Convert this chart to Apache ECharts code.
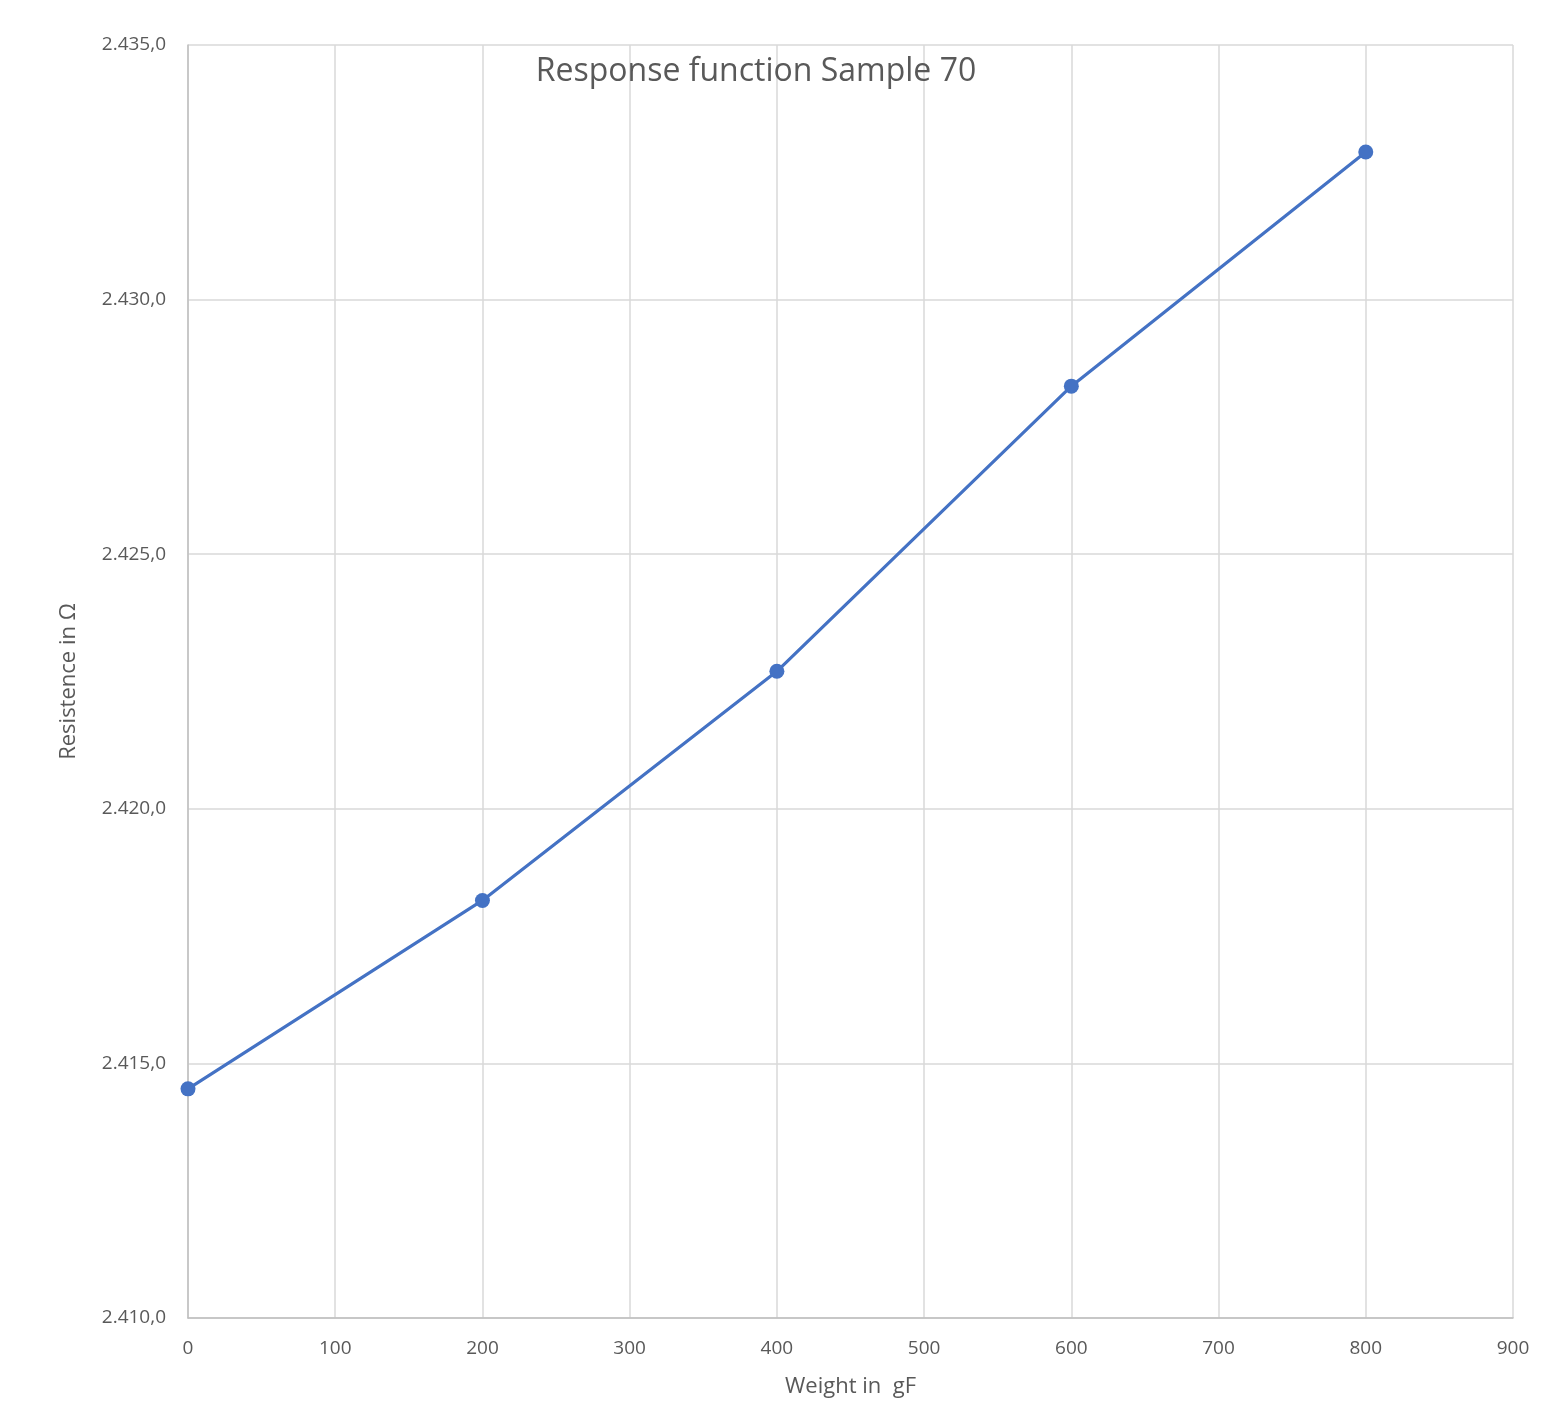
<!DOCTYPE html>
<html><head><meta charset="utf-8">
<script src="https://cdn.jsdelivr.net/npm/echarts@6/dist/echarts.min.js"></script>
<style>html,body{margin:0;padding:0;background:#fff;overflow:hidden}#c{width:1542px;height:1403px}</style>
</head><body><div id="c"></div>
<script>
const weights = [0, 200, 400, 600, 800];
const resistance = [2414.5, 2418.2, 2422.7, 2428.3, 2432.9];
const titleText = 'Response function Sample 70';
const xName = 'Weight in  gF';
const yName = 'Resistence in Ω';

function fmtDE(v){
  const s = v.toFixed(1);
  const [i, d] = s.split('.');
  return i.replace(/\B(?=(\d{3})+(?!\d))/g, '.') + ',' + d;
}
const font = '"Open Sans", "Liberation Sans", sans-serif';
const chart = echarts.init(document.getElementById('c'));
chart.setOption({
  animation: false,
  title: { text: titleText, left: 751, top: 51, textAlign: 'center',
    textStyle: { fontFamily: font, fontSize: 32, fontWeight: 'normal', color: '#595959' } },
  grid: { left: 188, width: 1325, top: 45, height: 1283, containLabel: false },
  xAxis: { type: 'value', min: 0, max: 900, interval: 100,
    name: xName, nameLocation: 'middle', nameGap: 58,
    nameTextStyle: { fontFamily: font, fontSize: 22, color: '#595959', verticalAlign: 'top' },
    axisLine: { show: true, lineStyle: { color: '#bfbfbf', width: 1.5 } },
    axisTick: { show: false },
    axisLabel: { fontFamily: font, fontSize: 19, color: '#595959', margin: 21 },
    splitLine: { show: true, lineStyle: { color: '#d9d9d9', width: 1.5 } } },
  yAxis: { type: 'value', min: 2410, max: 2435, interval: 5,
    name: yName, nameLocation: 'middle', nameGap: 108, nameRotate: 90,
    nameTextStyle: { fontFamily: font, fontSize: 22, color: '#595959' },
    axisLine: { show: true, lineStyle: { color: '#bfbfbf', width: 1.5 } },
    axisTick: { show: false },
    axisLabel: { fontFamily: font, fontSize: 19, color: '#595959', margin: 22, formatter: fmtDE },
    splitLine: { show: true, lineStyle: { color: '#d9d9d9', width: 1.5 } } },
  series: [{ type: 'line', data: weights.map((w, i) => [w, resistance[i]]),
    symbol: 'circle', symbolSize: 15,
    lineStyle: { color: '#4472C4', width: 3.2 },
    itemStyle: { color: '#4472C4' } }]
});
</script></body></html>
